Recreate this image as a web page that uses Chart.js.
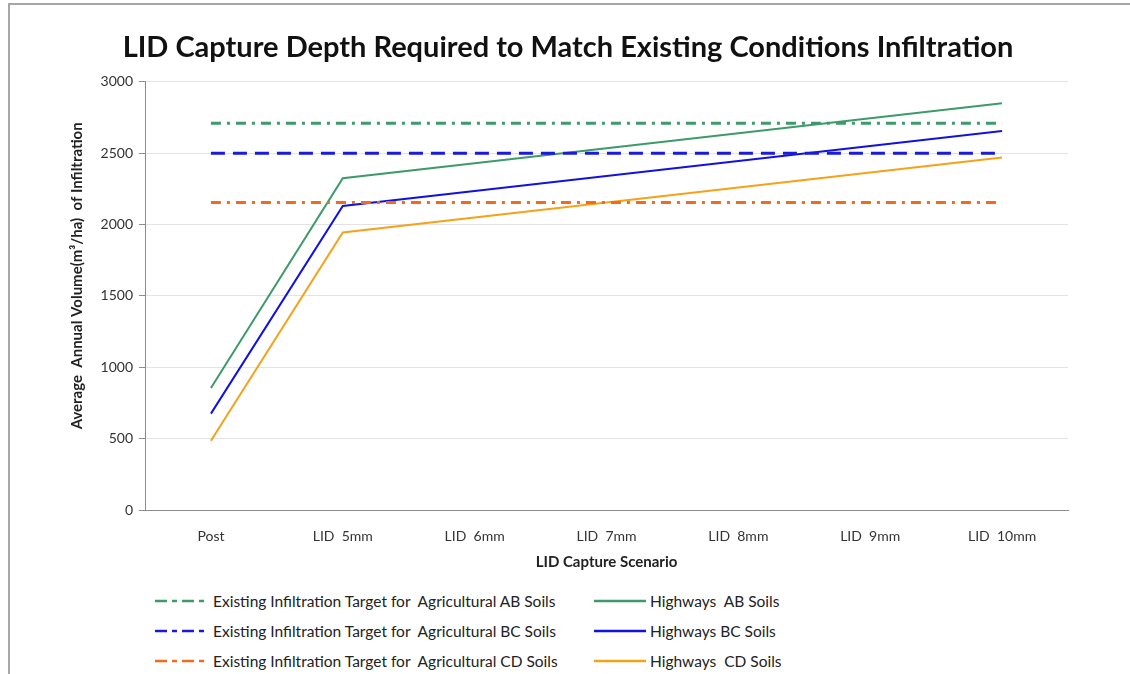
<!DOCTYPE html>
<html>
<head>
<meta charset="utf-8">
<script src="https://cdn.jsdelivr.net/npm/chart.js@4.4.1/dist/chart.umd.min.js"></script>
<style>
  html, body { margin: 0; padding: 0; background: #fff; }
  body { width: 1130px; height: 674px; position: relative; overflow: hidden; font-family: 'Lato', sans-serif; }
  #frame { position: absolute; left: 8px; top: 3px; width: 1140px; height: 690px; border-left: 2px solid #a6a6a6; border-top: 2px solid #a6a6a6; }
  #wrap { position: absolute; left: 0; top: 0; width: 1130px; height: 575px; }
  #legend { position: absolute; left: 0; top: 592px; width: 1130px; }
  .lg-item { position: absolute; display: flex; align-items: center; font-size: 15.5px; color: #222; white-space: pre; }
  .lg-item svg { margin-right: 4px; }
</style>
</head>
<body>
<div id="frame"></div>
<div id="wrap"><canvas id="chart"></canvas></div>
<div id="legend"></div>
<script>
// ---- Data ---------------------------------------------------------------
const CATEGORIES = ['Post', 'LID  5mm', 'LID  6mm', 'LID  7mm', 'LID  8mm', 'LID  9mm', 'LID  10mm'];
const Y_TICKS = [0, 500, 1000, 1500, 2000, 2500, 3000];

const TARGET_AB = [2710, 2710, 2710, 2710, 2710, 2710, 2710];
const TARGET_BC = [2500, 2500, 2500, 2500, 2500, 2500, 2500];
const TARGET_CD = [2155, 2155, 2155, 2155, 2155, 2155, 2155];

const HIGHWAYS_AB = [855, 2325, 2430, 2535, 2640, 2745, 2850];
const HIGHWAYS_BC = [675, 2130, 2235, 2340, 2445, 2550, 2655];
const HIGHWAYS_CD = [485, 1945, 2050, 2155, 2260, 2365, 2470];

const FONT = "'Lato', 'Open Sans', sans-serif";

// ---- Datasets -----------------------------------------------------------
function targetSet(label, data, color, dash) {
    return {
        label, data,
        borderColor: color,
        backgroundColor: color,
        borderWidth: 3,
        borderDash: dash,
        pointRadius: 0,
        tension: 0,
        fill: false,
        legendDash: '12 5 5 5',
        legendCol: 0,
    };
}
function highwaySet(label, data, color) {
    return {
        label, data,
        borderColor: color,
        backgroundColor: color,
        borderWidth: 2,
        pointRadius: 0,
        tension: 0,
        fill: false,
        legendDash: '',
        legendCol: 1,
    };
}

const datasets = [
    targetSet('Existing Infiltration Target for  Agricultural AB Soils', TARGET_AB, '#3d9a6b', [10, 6, 3, 6]),
    targetSet('Existing Infiltration Target for  Agricultural BC Soils', TARGET_BC, '#1a1adb', [14, 8]),
    targetSet('Existing Infiltration Target for  Agricultural CD Soils', TARGET_CD, '#f26b1d', [10, 6, 3, 6]),
    highwaySet('Highways  AB Soils', HIGHWAYS_AB, '#3d9a6b'),
    highwaySet('Highways BC Soils', HIGHWAYS_BC, '#1212e0'),
    highwaySet('Highways  CD Soils', HIGHWAYS_CD, '#f5a21b'),
];

// ---- Chart --------------------------------------------------------------
const chart = new Chart(document.getElementById('chart'), {
    type: 'line',
    data: { labels: CATEGORIES, datasets },
    options: {
        responsive: true,
        maintainAspectRatio: false,
        animation: false,
        layout: { padding: { left: 68, right: 62, top: 0, bottom: 0 } },
        plugins: {
            legend: { display: false },
            tooltip: { enabled: false },
            title: {
                display: true,
                text: 'LID Capture Depth Required to Match Existing Conditions Infiltration',
                color: '#111',
                font: { family: FONT, size: 29, weight: 'bold' },
                padding: { top: 30, bottom: 17 },
            },
        },
        scales: {
            x: {
                offset: true,
                grid: { display: false, drawTicks: false },
                border: { color: '#8c8c8c', width: 1 },
                ticks: { color: '#333', font: { family: FONT, size: 14 }, padding: 18, maxRotation: 0 },
                title: {
                    display: true,
                    text: 'LID Capture Scenario',
                    color: '#222',
                    font: { family: FONT, size: 15, weight: 'bold' },
                    padding: { top: 0 },
                },
                afterFit: s => { s.height = 65; },
            },
            y: {
                min: 0,
                max: 3000,
                afterBuildTicks: s => { s.ticks = Y_TICKS.map(v => ({ value: v })); },
                grid: { color: '#e3e3e3', tickColor: '#8c8c8c', tickLength: 6 },
                border: { color: '#8c8c8c', width: 1 },
                ticks: { color: '#333', font: { family: FONT, size: 14 }, padding: 6, callback: v => String(v) },
                title: {
                    display: true,
                    text: '           Average  Annual Volume(m³/ha)  of Infiltration',
                    color: '#222',
                    font: { family: FONT, size: 15, weight: 'bold' },
                    padding: { top: 0, bottom: 0 },
                },
                afterFit: s => { s.width = 77; },
            },
        },
    },
});

// ---- HTML legend (two columns) -----------------------------------------
const legendEl = document.getElementById('legend');
const COL_X = [155, 594];
const rows = [0, 0];
chart.data.datasets.forEach(ds => {
    const col = ds.legendCol;
    const item = document.createElement('div');
    item.className = 'lg-item';
    item.style.left = COL_X[col] + 'px';
    item.style.top = (rows[col] * 30) + 'px';
    rows[col]++;
    const w = col === 0 ? 54 : 52;
    item.innerHTML = `<svg width="${w}" height="6"><line x1="0" y1="3" x2="${w}" y2="3" stroke="${ds.borderColor}" stroke-width="2.5" ${ds.legendDash ? `stroke-dasharray="${ds.legendDash}"` : ''}/></svg><span>${ds.label}</span>`;
    legendEl.appendChild(item);
});
</script>
</body>
</html>
